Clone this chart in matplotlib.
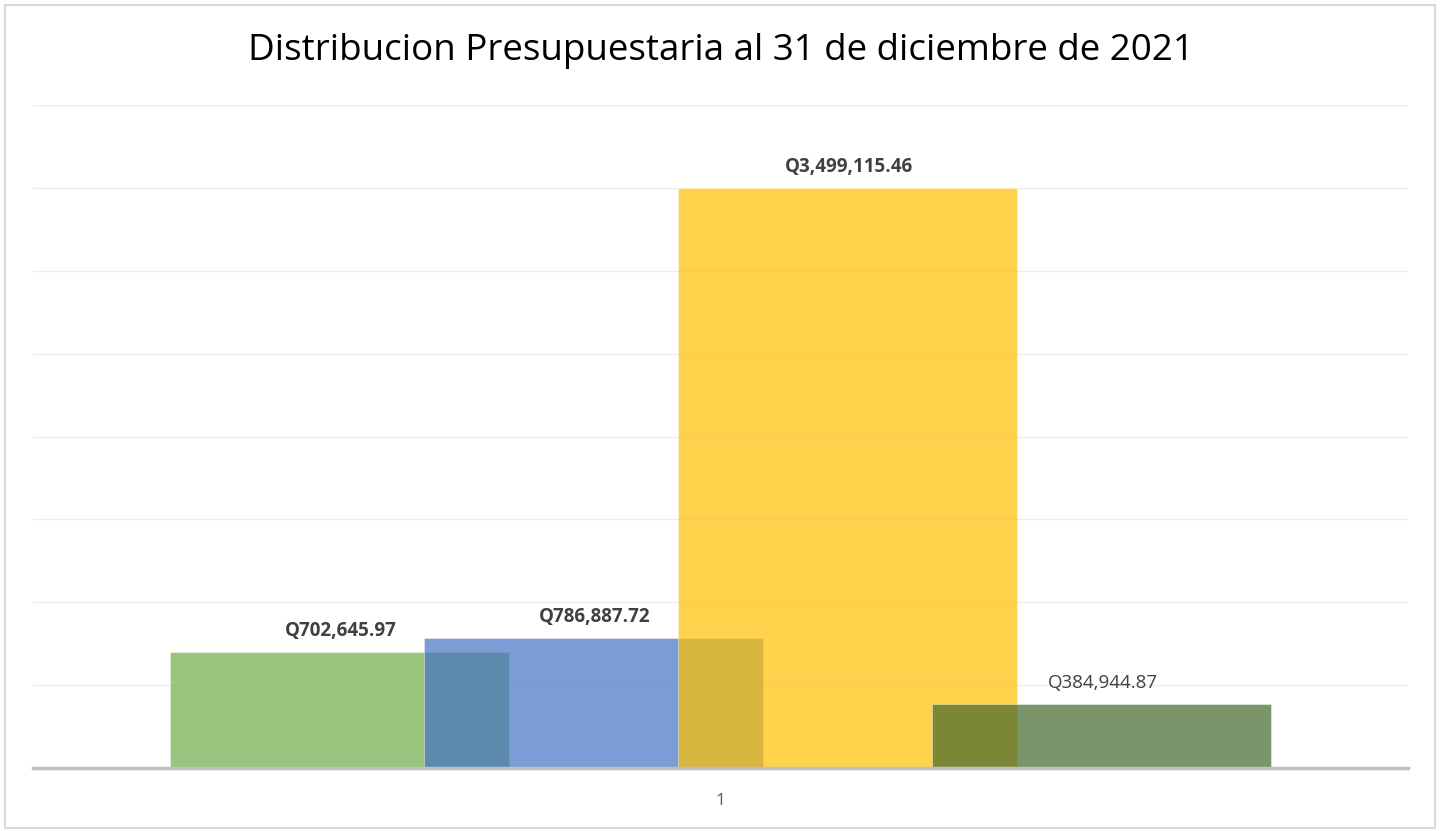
import matplotlib.pyplot as plt
from matplotlib.patches import Rectangle

# presupuesto por rubro, en quetzales
montos = [702645.97, 786887.72, 3499115.46, 384944.87]
colores = ['#70AD47', '#4472C4', '#FFC000', '#43682B']
negrita = [True, True, True, False]
categoria = ['1']

fig = plt.figure(figsize=(14.42, 8.31), dpi=100)
fig.patches.append(Rectangle((5 / 1442, 3 / 831), 1430 / 1442, 823 / 831,
                             transform=fig.transFigure, fill=False,
                             edgecolor='#D9D9D9', linewidth=1.5))

ax = fig.add_axes([33 / 1442, 63 / 831, 1375 / 1442, 663 / 831])

paso = 0.1847
ancho = 0.2466
for i, (v, c) in enumerate(zip(montos, colores)):
    x = (i - 1.5) * paso
    ax.bar(x, v, width=ancho, color=c, alpha=0.7, zorder=2 + i,
           edgecolor='white', linewidth=0.4)
    ax.text(x + 0.001, v + 125000, 'Q{:,.2f}'.format(v), ha='center', va='center',
            fontsize=13.5, color='#404040', family='Open Sans',
            fontweight='bold' if negrita[i] else 'normal', zorder=10)

ax.set_xlim(-0.5, 0.5)
ax.set_ylim(0, 4000000)
ax.set_yticks(range(0, 4000001, 500000))
ax.yaxis.grid(True, color='#EEEEEE', linewidth=1, zorder=0)
ax.set_axisbelow(True)
ax.tick_params(left=False, labelleft=False, bottom=False, labelbottom=False)
for s in ['top', 'right', 'left']:
    ax.spines[s].set_visible(False)
ax.spines['bottom'].set_color('#BFBFBF')
ax.spines['bottom'].set_linewidth(2.5)
ax.spines['bottom'].set_zorder(20)

ax.text(0, -0.05, categoria[0], transform=ax.get_xaxis_transform(),
        ha='center', va='center', fontsize=12.5, color='#595959', family='Open Sans')

fig.text(0.5, 1 - 51 / 831, 'Distribucion Presupuestaria al 31 de diciembre de 2021',
         ha='center', va='center', fontsize=26.5, color='black', family='Open Sans')

fig.savefig('out.png', dpi=100)
